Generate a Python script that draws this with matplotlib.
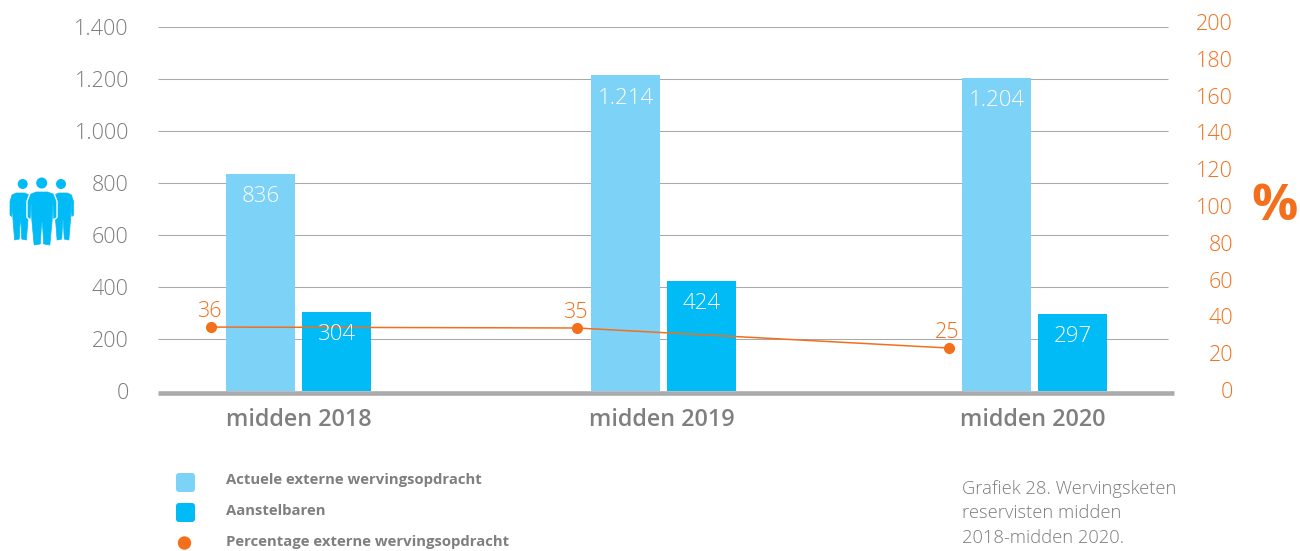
import numpy as np
import matplotlib
matplotlib.use("Agg")
import matplotlib.pyplot as plt
from matplotlib.patches import Circle, FancyBboxPatch, Polygon

categories = ["midden 2018", "midden 2019", "midden 2020"]
opdracht = [836, 1214, 1204]
aanstelbaren = [304, 424, 297]
# the printed percentages, and where their points sit on the right axis
pct_labels = [36, 35, 25]
pct_points = [34.2, 33.7, 22.8]
left_ticks = [0, 200, 400, 600, 800, 1000, 1200, 1400]
right_ticks = [0, 20, 40, 60, 80, 100, 120, 140, 160, 180, 200]
legend_labels = ["Actuele externe wervingsopdracht", "Aanstelbaren", "Percentage externe wervingsopdracht"]
note_lines = ["Grafiek 28. Wervingsketen", "reservisten midden", "2018-midden 2020."]

LIGHT_BLUE = "#7dd3f7"
BLUE = "#00bbf5"
ORANGE = "#f36f1c"
GREY = "#7c7c7f"
GRID = "#a9a9ac"
BASE = "#ababae"
FONT = "Open Sans"
W, H = 1300, 551

plt.rcParams["font.family"] = FONT


def dots(v):
    return f"{v:,}".replace(",", ".")


def person(ov, cx, top, half_w, height, edge=None):
    rel = [(0.4, 0), (0.8, 0.04), (1.0, 0.18), (1.0, 0.47), (0.84, 0.5), (0.78, 0.2),
           (0.72, 0.55), (0.56, 1.0), (0.12, 0.98), (0.03, 0.58)]
    right = [(cx + x * half_w, top + y * height) for x, y in rel]
    left = [(cx - x * half_w, top + y * height) for x, y in reversed(rel)]
    pts = right + left
    if edge:
        ov.add_patch(Polygon(pts, closed=True, fc=edge, ec=edge, lw=2.5, joinstyle="round"))
    ov.add_patch(Polygon(pts, closed=True, fc=BLUE, ec=BLUE, lw=0.5, joinstyle="round"))


fig = plt.figure(figsize=(W / 100, H / 100), dpi=100)
ax = fig.add_axes([158 / W, 1 - 391 / H, (1174 - 158) / W, (391 - 27) / H])
ax.set_xlim(158, 1174)
ax.set_ylim(0, 1400)

# group centres are not evenly spaced in the original
centres = np.array([298.5, 663.5, 1034.5])
bar_w = 69
gap = 7
x1 = centres - (bar_w + gap) / 2
x2 = centres + (bar_w + gap) / 2

ax.hlines(left_ticks[1:], 158, 1168, color=GRID, lw=0.75, zorder=1)
b1 = ax.bar(x1, opdracht, bar_w, color=LIGHT_BLUE, zorder=2)
b2 = ax.bar(x2, aanstelbaren, bar_w, color=BLUE, zorder=2)
ax.plot([158, 1174], [-5.8, -5.8], color=BASE, lw=3.3, clip_on=False, solid_capstyle="butt", zorder=3)

ax.set_xticks(centres - np.array([0, 1.5, 1.5]))
ax.set_xticklabels(categories, fontsize=16.8, fontweight="semibold", color="#7f7f82")
ax.set_yticks(left_ticks)
ax.set_yticklabels([dots(v) for v in left_ticks], fontsize=15.5, fontweight="light", color=GREY)
ax.tick_params(axis="both", length=0)
ax.tick_params(axis="x", pad=12.5)
ax.tick_params(axis="y", pad=21)
for s in ax.spines.values():
    s.set_visible(False)

# right axis has its own axes: 0 sits at pixel 390, 200 at pixel 22
ax2 = fig.add_axes([158 / W, 1 - 390 / H, (1174 - 158) / W, (390 - 22) / H])
ax2.set_xlim(158, 1174)
ax2.set_ylim(0, 200)
ax2.set_xticks([])
ax2.yaxis.tick_right()
ax2.set_yticks(right_ticks)
ax2.set_yticklabels([str(v) for v in right_ticks], fontsize=15.5, fontweight="light", color=ORANGE, ha="right")
ax2.tick_params(axis="y", length=0, pad=42.5)
for s in ax2.spines.values():
    s.set_visible(False)
ax2.patch.set_visible(False)

pct_x = centres - np.array([87.5, 86.5, 85.5])
ax2.plot(pct_x, pct_points, color=ORANGE, lw=1.1, marker="o", ms=7, zorder=4, clip_on=False)
for x, y, lab in zip(pct_x, pct_points, pct_labels):
    ax2.annotate(str(lab), (x, y), xytext=(-1, 11.5), textcoords="offset points",
                 ha="center", va="center", color=ORANGE, fontsize=15.5, fontweight="light")

# bar values go on the top axes so the line runs behind them
for rects, vals in ((b1, opdracht), (b2, aanstelbaren)):
    for rect, v in zip(rects, vals):
        ax2.annotate(dots(v), (rect.get_x() + bar_w / 2, v), xycoords=ax.transData,
                     xytext=(0, -16.5), textcoords="offset points",
                     ha="center", va="center", color="white", fontsize=16, fontweight="light", zorder=6)

# overlay in pixel coordinates for the icon, legend and note
ov = fig.add_axes([0, 0, 1, 1])
ov.set_xlim(0, W)
ov.set_ylim(H, 0)
ov.axis("off")
ov.patch.set_visible(False)

person(ov, 20.5, 193, 10.5, 47)
person(ov, 63, 193, 10.5, 47)
person(ov, 42, 192, 14, 53, edge="white")
for cx, cy, r in [(22.7, 184, 5), (61, 184, 5), (41.7, 183, 5.5)]:
    ov.add_patch(Circle((cx, cy), r, fc=BLUE, ec="none"))

for y, col in ((473, LIGHT_BLUE), (503, BLUE)):
    ov.add_patch(FancyBboxPatch((178, y + 2), 15, 15, boxstyle="round,pad=2,rounding_size=3", fc=col, ec="none"))
ov.add_patch(Circle((184.5, 543), 6.7, fc=ORANGE, ec="none"))
for y, lab in zip((480, 511, 542), legend_labels):
    ov.text(226, y, lab, fontsize=10.7, fontweight="bold", color="#7f7f82", ha="left", va="center")

for y, lab in zip((489, 513, 538), note_lines):
    ov.text(962, y, lab, fontsize=13.2, fontweight="light", color=GREY, ha="left", va="center")

ov.text(1275, 207, "%", fontsize=37, fontweight="bold", color=ORANGE, ha="center", va="center")

fig.savefig("out.png", dpi=100)
